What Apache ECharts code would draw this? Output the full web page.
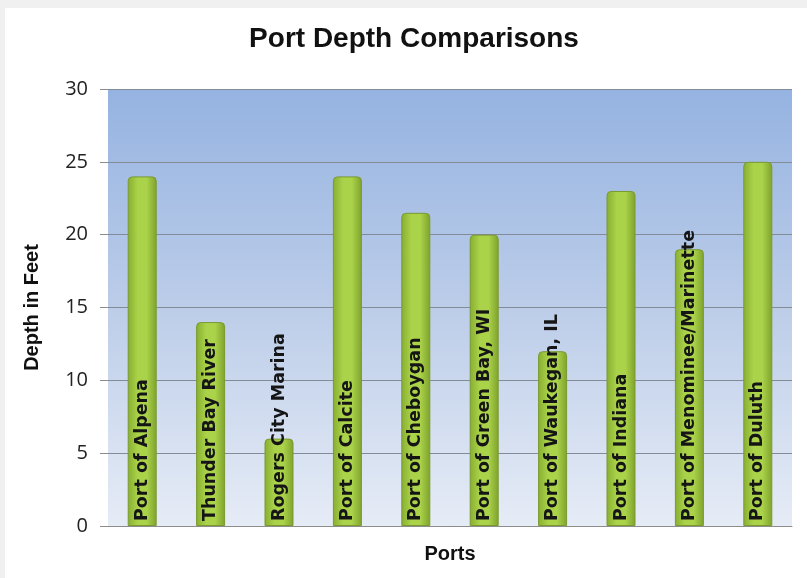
<!DOCTYPE html>
<html>
<head>
<meta charset="utf-8">
<script src="https://cdn.jsdelivr.net/npm/echarts@6/dist/echarts.min.js"></script>
<style>
html,body{margin:0;padding:0;background:#f0f0f0;}
#wrap{position:absolute;left:5px;top:8px;width:802px;height:570px;background:#fff;}
#main{position:absolute;left:-5px;top:-8px;width:807px;height:578px;}
</style>
</head>
<body>
<div id="wrap"><div id="main"></div></div>
<script>
const categories = ["Port of Alpena","Thunder Bay River","Rogers City Marina","Port of Calcite","Port of Cheboygan","Port of Green Bay, WI","Port of Waukegan, IL","Port of Indiana","Port of Menominee/Marinette","Port of Duluth"];
const depths = [24, 14, 6, 24, 21.5, 20, 12, 23, 19, 25];
const yTicks = [0, 5, 10, 15, 20, 25, 30];

const chart = echarts.init(document.getElementById('main'), null, {renderer:'canvas'});
chart.setOption({
  backgroundColor: 'transparent',
  animation: false,
  title: {
    text: 'Port Depth Comparisons',
    left: 409, top: 20, textAlign: 'center',
    textStyle: {fontFamily: 'Liberation Sans, Arial', fontSize: 28, fontWeight: 'bold', color: '#111'}
  },
  grid: {left: 108, right: 15, top: 89, bottom: 52, show: true, borderWidth: 0,
    backgroundColor: new echarts.graphic.LinearGradient(0,0,0,1,[
      {offset:0, color:'#95b3e1'},{offset:0.5,color:'#bccde9'},{offset:1,color:'#e6ecf6'}])},
  xAxis: {
    type: 'category', data: categories,
    name: 'Ports', nameLocation: 'middle', nameGap: 18,
    nameTextStyle: {fontFamily: 'Liberation Sans, Arial', fontSize: 20, fontWeight: 'bold', color: '#111', verticalAlign: 'top'},
    axisLine: {lineStyle: {color: '#8c8c8c'}},
    axisTick: {show: false},
    axisLabel: {show: false}
  },
  yAxis: {
    type: 'value', min: 0, max: 30, interval: 5,
    name: 'Depth in Feet', nameLocation: 'middle', nameGap: 66, nameRotate: 90,
    nameTextStyle: {fontFamily: 'Liberation Sans, Arial', fontSize: 20, fontWeight: 'bold', color: '#111'},
    axisLine: {show: false},
    axisTick: {show: true, length: 8, inside: false, lineStyle: {color: '#8c8c8c'}},
    axisLabel: {fontFamily: 'Open Sans, DejaVu Sans', fontSize: 20, color: '#222', margin: 20,
      formatter: v => yTicks.includes(v) ? String(v) : ''},
    splitLine: {lineStyle: {color: '#838b97', width: 1}}
  },
  series: [{
    type: 'bar', data: depths, barWidth: 29,
    itemStyle: {
      borderRadius: [4,4,0,0],
      borderColor: '#7a9a30', borderWidth: 1,
      color: new echarts.graphic.LinearGradient(0,0,1,0,[
        {offset:0,color:'#88ad30'},{offset:0.35,color:'#aad34a'},{offset:0.65,color:'#aad34a'},{offset:1,color:'#7fa12c'}])
    },
    label: {
      show: true, position: 'insideBottom', rotate: 90, align: 'left', verticalAlign: 'middle', distance: 5,
      formatter: p => categories[p.dataIndex],
      fontFamily: 'DejaVu Sans', fontSize: 17.5, fontWeight: 'bold', color: '#151515'
    }
  }]
});
</script>
</body>
</html>
